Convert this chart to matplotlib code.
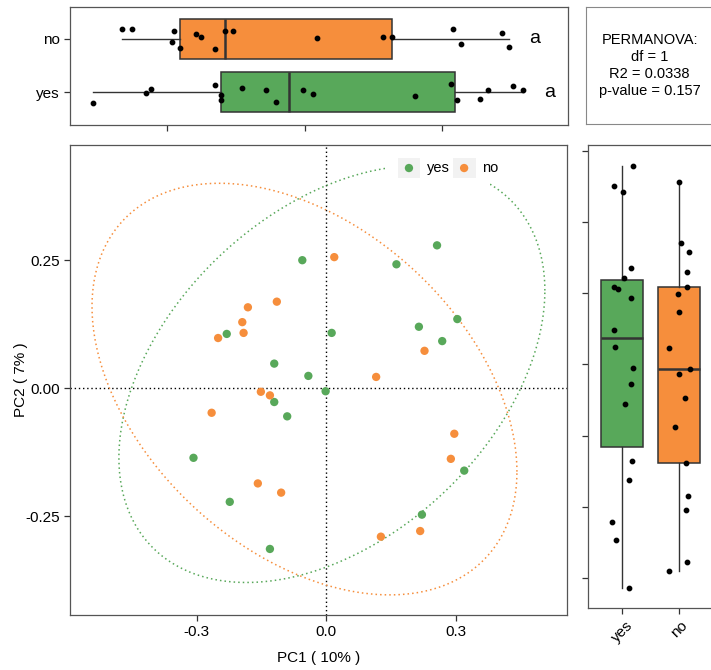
import numpy as np
import matplotlib
matplotlib.use("Agg")
import matplotlib.pyplot as plt
from matplotlib.patches import Rectangle

plt.rcParams['font.family'] = ['Liberation Sans', 'DejaVu Sans']

# ---- data ----
groups = ['yes', 'no']
colors = {'yes': '#58A85A', 'no': '#F68E3C'}

# PCoA scores (main panel)
pc1_yes = [-0.055, 0.257, 0.163, -0.230, 0.013, 0.304, 0.215, 0.269, -0.120,
           -0.041, -0.001, -0.120, -0.090, -0.307, 0.320, -0.223, 0.222, -0.130]
pc2_yes = [0.250, 0.279, 0.242, 0.106, 0.108, 0.135, 0.120, 0.092, 0.048,
           0.024, -0.006, -0.027, -0.055, -0.136, -0.161, -0.222, -0.247, -0.314]
pc1_no = [0.019, -0.114, -0.181, -0.194, -0.191, -0.250, 0.228, 0.116, -0.151,
          -0.130, -0.265, 0.297, 0.289, -0.158, -0.104, 0.127, 0.218]
pc2_no = [0.256, 0.169, 0.158, 0.129, 0.108, 0.098, 0.073, 0.022, -0.007,
          -0.014, -0.048, -0.089, -0.138, -0.186, -0.204, -0.290, -0.279]

# top boxplot values (horizontal) and their vertical jitter
top_yes = [-0.462, -0.346, -0.335, -0.195, -0.183, -0.182, -0.137, -0.084, -0.062,
           -0.004, 0.018, 0.242, 0.320, 0.332, 0.383, 0.401, 0.455, 0.477]
top_yes_jit = [-0.21, -0.01, 0.06, 0.13, -0.06, -0.15, 0.08, 0.04, -0.19,
               0.03, -0.03, -0.07, 0.16, -0.15, -0.13, 0.04, 0.11, 0.03]
top_no = [-0.398, -0.377, -0.286, -0.290, -0.272, -0.238, -0.226, -0.196, -0.173,
          -0.156, 0.028, 0.172, 0.190, 0.324, 0.341, 0.432, 0.446]
top_no_jit = [0.18, 0.19, 0.15, -0.05, -0.18, 0.10, 0.04, -0.19, 0.14,
              0.14, 0.02, 0.04, 0.04, 0.18, -0.10, 0.11, -0.15]

# right boxplot values (vertical) and their horizontal jitter
right_yes = [5.79, 5.50, 5.42, 4.35, 4.21, 4.09, 4.06, 3.93, 3.48,
             3.25, 2.95, 2.73, 2.45, 1.64, 1.38, 0.79, 0.53, -0.14]
right_yes_jit = [0.19, -0.14, 0.02, 0.16, 0.03, -0.15, -0.08, 0.15, -0.15,
                 -0.13, 0.20, 0.16, 0.05, 0.18, 0.13, -0.17, -0.10, 0.13]
right_no = [5.56, 4.70, 4.58, 4.30, 4.09, 3.99, 3.73, 3.23, 2.94,
            2.87, 2.53, 2.12, 1.62, 1.15, 0.96, 0.22, 0.10]
right_no_jit = [0.01, 0.03, 0.18, 0.15, 0.15, -0.01, 0.01, -0.17, 0.19,
                0.00, 0.10, -0.07, 0.13, 0.16, 0.13, 0.14, -0.18]

sig_letters = ['a', 'a']
stats_text = "PERMANOVA:\ndf = 1\nR2 = 0.0338\np-value = 0.157"

EDGE = '#333333'
SPINE = '#555555'


def style_spines(ax):
    for s in ax.spines.values():
        s.set_color(SPINE)
        s.set_linewidth(0.9)
    ax.tick_params(colors='#333333', length=4, width=0.9, labelsize=11,
                   labelcolor='black')


def draw_box(ax, data, pos, color, vert):
    bp = ax.boxplot([data], positions=[pos], widths=0.75, vert=vert,
                    patch_artist=True, showfliers=False, showcaps=False,
                    whis=1.5, manage_ticks=False)
    for b in bp['boxes']:
        b.set_facecolor(color)
        b.set_edgecolor(EDGE)
        b.set_linewidth(1.1)
    for w in bp['whiskers']:
        w.set_color(EDGE)
        w.set_linewidth(1.0)
    for m in bp['medians']:
        m.set_color(EDGE)
        m.set_linewidth(1.8)


def cov_trob(data, nu=5, maxit=25, tol=0.01):
    # robust multivariate t estimate of location / scatter (like MASS::cov.trob)
    n, p = data.shape
    loc = data.mean(axis=0)
    w = np.ones(n)
    for _ in range(maxit):
        w0 = w
        X = data - loc
        _, d, vt = np.linalg.svd(np.sqrt(w / w.sum())[:, None] * X,
                                 full_matrices=False)
        wX = X @ vt.T @ np.diag(1 / d)
        Q = (wX ** 2).sum(axis=1)
        w = (nu + p) / (nu + Q)
        loc = (w[:, None] * data).sum(axis=0) / w.sum()
        if np.all(np.abs(w - w0) < tol):
            break
    cov = (np.sqrt(w)[:, None] * X).T @ (np.sqrt(w)[:, None] * X) / n
    return loc, cov


def ellipse_xy(x, y, level=0.95, npts=200):
    data = np.column_stack([x, y])
    loc, cov = cov_trob(data)
    d = len(x) - 1
    fq = d / 2.0 * ((1 - level) ** (-2.0 / d) - 1)
    radius = np.sqrt(2 * fq)
    chol = np.linalg.cholesky(cov)
    t = np.linspace(0, 2 * np.pi, npts)
    circ = np.vstack([np.cos(t), np.sin(t)])
    pts = chol @ circ * radius
    return pts[0] + loc[0], pts[1] + loc[1]


fig = plt.figure(figsize=(7.11, 6.70), dpi=100)
W, H = 711.0, 670.0


def add_ax(l, t, r, b):
    return fig.add_axes([l / W, 1 - b / H, (r - l) / W, (b - t) / H])


# ---- main PCoA panel ----
ax = add_ax(70, 145, 567, 615)
ax.axhline(0, color='black', ls=(0, (1, 2)), lw=1.0, zorder=1)
ax.axvline(0, color='black', ls=(0, (1, 2)), lw=1.0, zorder=1)
for g, xs, ys in [('yes', pc1_yes, pc2_yes), ('no', pc1_no, pc2_no)]:
    ex, ey = ellipse_xy(xs, ys)
    ax.plot(ex, ey, color=colors[g], ls=(0, (1, 2)), lw=1.1, zorder=2)
for g, xs, ys in [('yes', pc1_yes, pc2_yes), ('no', pc1_no, pc2_no)]:
    ax.scatter(xs, ys, s=36, color=colors[g], edgecolors='none', zorder=3)
ax.set_xlim(-0.593, 0.558)
ax.set_ylim(-0.443, 0.475)
ax.set_xticks([-0.3, 0.0, 0.3])
ax.set_xticklabels(['-0.3', '0.0', '0.3'])
ax.set_yticks([-0.25, 0.0, 0.25])
ax.set_yticklabels(['-0.25', '0.00', '0.25'])
ax.set_xlabel('PC1 ( 10% )', fontsize=11, labelpad=8)
ax.set_ylabel('PC2 ( 7% )', fontsize=11, labelpad=-2)
style_spines(ax)

# legend: white box, grey key backgrounds
ax.add_patch(Rectangle((0.634, 0.913), 0.211, 0.076, transform=ax.transAxes,
                       facecolor='white', edgecolor='none', zorder=4))
key_x = [0.682, 0.793]
for g, kx in zip(groups, key_x):
    ax.add_patch(Rectangle((kx - 0.023, 0.930), 0.046, 0.043,
                           transform=ax.transAxes, facecolor='#F2F2F2',
                           edgecolor='none', zorder=5))
    ax.scatter([kx], [0.951], s=36, color=colors[g], transform=ax.transAxes,
               edgecolors='none', zorder=6, clip_on=False)
    ax.text(kx + 0.036, 0.951, g, transform=ax.transAxes, fontsize=10.5,
            va='center', ha='left', zorder=6)

# ---- top boxplot (PC1) ----
axt = add_ax(70, 7, 568, 125)
top_data = {'yes': (top_yes, top_yes_jit), 'no': (top_no, top_no_jit)}
for i, g in enumerate(groups):
    vals, jit = top_data[g]
    draw_box(axt, vals, i, colors[g], vert=False)
    axt.scatter(vals, np.array(jit) + i, s=10, color='black', zorder=4)
    axt.text(max(vals) + 0.045, i, sig_letters[i], fontsize=14,
             va='center', ha='left')
axt.set_xlim(-0.512, 0.575)
axt.set_ylim(-0.62, 1.6)
axt.set_yticks([0, 1])
axt.set_yticklabels(groups)
axt.set_xticks([-0.3, 0.0, 0.3])
axt.set_xticklabels([])
style_spines(axt)

# ---- right boxplot (PC2) ----
axr = add_ax(588, 145, 713, 608)
right_data = {'yes': (right_yes, right_yes_jit), 'no': (right_no, right_no_jit)}
for i, g in enumerate(groups):
    vals, jit = right_data[g]
    draw_box(axr, vals, i, colors[g], vert=True)
    axr.scatter(np.array(jit) + i, vals, s=10, color='black', zorder=4)
axr.set_xlim(-0.6, 1.6)
axr.set_ylim(-0.42, 6.08)
axr.set_yticks(range(0, 7))
axr.set_yticklabels([])
axr.set_xticks([0, 1])
axr.set_xticklabels(groups, rotation=45, ha='center')
style_spines(axr)

# ---- statistics box ----
axs = add_ax(586, 7, 716, 124)
axs.set_xticks([])
axs.set_yticks([])
for s in axs.spines.values():
    s.set_color('#888888')
    s.set_linewidth(0.8)
axs.text(0.49, 0.5, stats_text, transform=axs.transAxes, ha='center',
         va='center', fontsize=10.5, linespacing=1.25)

fig.savefig('out.png', dpi=100)
